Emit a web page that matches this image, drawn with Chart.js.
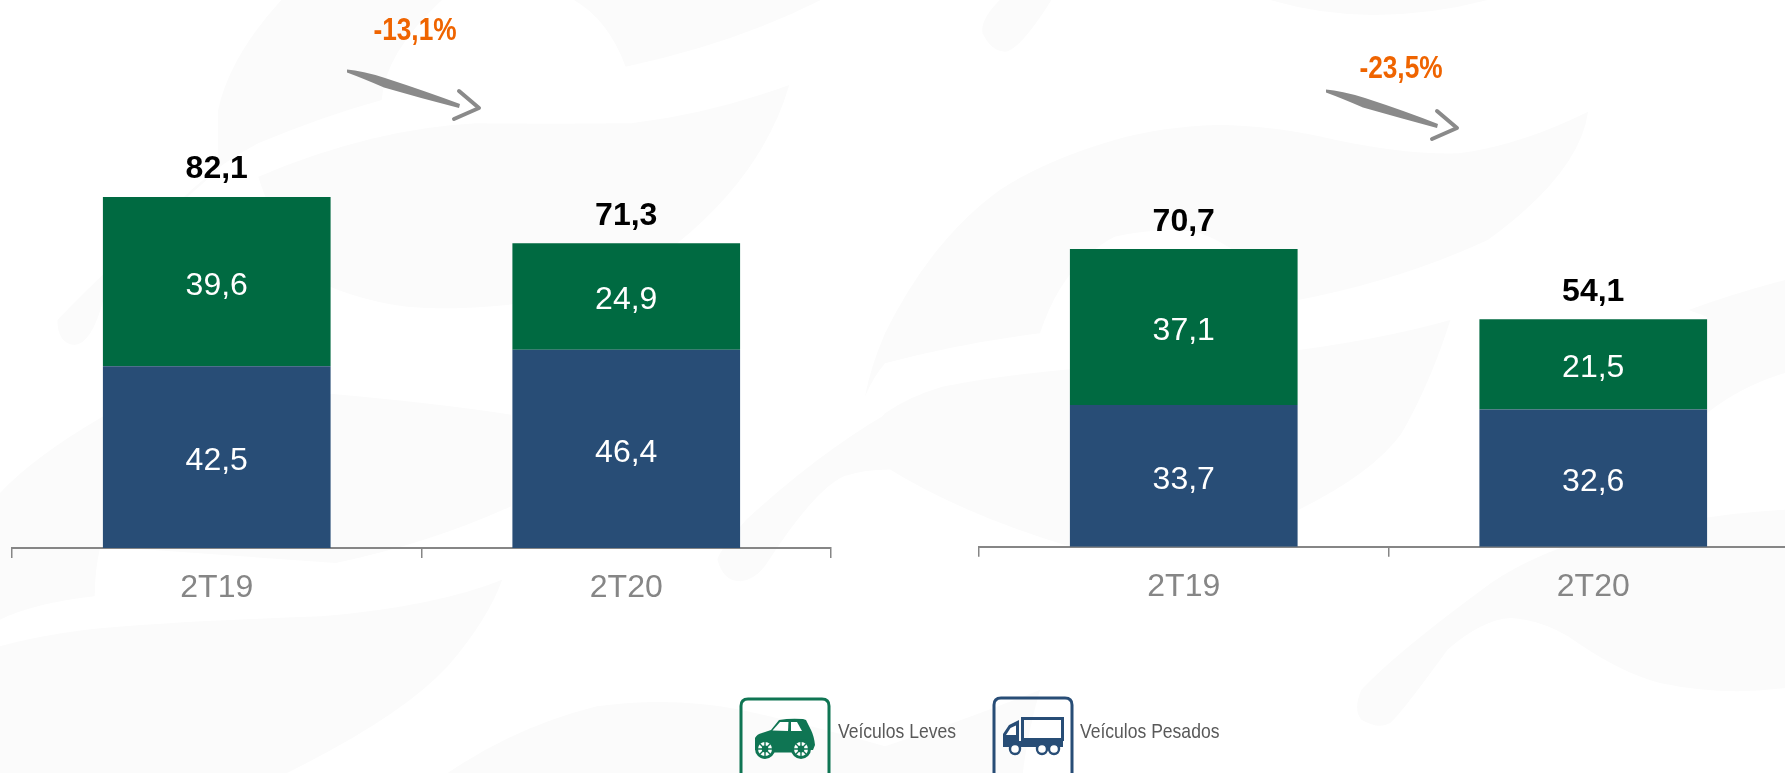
<!DOCTYPE html>
<html lang="pt">
<head>
<meta charset="utf-8">
<title>Veículos Leves e Pesados</title>
<script src="https://cdn.jsdelivr.net/npm/chart.js@4"></script>
<style>
html,body{margin:0;padding:0;width:1785px;height:773px;overflow:hidden;background:#fff;}
body{position:relative;font-family:"Liberation Sans",Arial,sans-serif;}
canvas{position:absolute;top:0;}
#bg,#deco{position:absolute;left:0;top:0;}
.pct{position:absolute;transform:translate(-50%,-50%) scaleX(.82);color:#ef6400;font:bold 32px "Liberation Sans",sans-serif;white-space:nowrap;}
.lg{position:absolute;transform-origin:0 50%;transform:translateY(-50%) scaleX(.835);color:#595959;font:21px "Liberation Sans",sans-serif;white-space:nowrap;}
</style>
</head>
<body>
<svg id="bg" width="1785" height="773" viewBox="0 0 1785 773">
  <g fill="#fbfbfb">
    <g transform="scale(0.574,0.3333)">
      <path d="M490 0 Q400 170 380 330 L380 510 Q200 780 100 960 Q100 1030 130 1035 Q160 1030 180 900 Q300 560 450 430 Q560 350 665 300 Q670 160 770 0Z"/>
      <path d="M1000 0 Q1060 60 1090 200 Q1280 130 1430 0Z"/>
      <path d="M1375 255 Q1240 340 1100 370 Q960 372 830 370 Q650 385 450 530 Q480 700 560 850 Q660 925 760 925 Q900 925 1000 880 Q1130 820 1180 730 Q1330 520 1375 255Z"/>
    </g>
    <g transform="translate(0,373) scale(0.574,0.3333)">
      <path d="M0 360 Q60 250 180 130 Q300 60 560 60 Q760 90 890 125 L890 400 Q750 510 585 570 L175 520 Q165 590 165 670 Q60 690 0 740Z"/>
      <path d="M875 620 Q760 700 560 730 Q300 745 150 770 Q60 790 0 820 L0 1200 L500 1200 Q700 1030 780 880 Q850 740 875 620Z"/>
      <path d="M1568 100 Q1440 220 1300 440 Q1250 540 1250 560 Q1260 625 1290 625 Q1320 620 1340 560 Q1420 350 1470 310 Q1510 285 1568 290Z"/>
      <path d="M780 1200 Q900 1060 1040 1000 Q1170 970 1290 1010 Q1420 1060 1542 1120 Q1700 1030 1812 950 Q1790 1080 1782 1200Z"/>
    </g>
    <g transform="translate(885,0) scale(0.574,0.3333)">
      <path d="M200 0 Q165 60 170 100 Q185 155 210 155 Q235 150 290 0Z"/>
      <path d="M670 0 Q760 45 850 45 Q950 45 1050 0Z"/>
      <path d="M1225 335 Q1100 440 1000 460 Q900 465 760 410 Q660 375 580 375 Q480 380 400 420 Q280 480 200 570 Q80 720 0 1000 Q-25 1100 -35 1190 Q-20 1130 0 1090 Q130 1030 270 1000 Q310 790 400 710 Q480 680 540 695 Q600 720 720 900 Q900 840 1050 720 Q1210 520 1225 335Z"/>
      <path d="M985 960 Q800 1050 500 1090 Q260 1105 100 1160 Q40 1190 0 1240 Q-30 1300 0 1400 Q130 1540 322 1640 L720 1530 Q850 1420 900 1300 Q950 1150 985 960Z"/>
      <path d="M1400 930 Q1480 880 1568 840 L1568 1119 Q1490 1160 1432 1240 L1432 950Z"/>
    </g>
    <g transform="translate(885,373) scale(0.574,0.3333)">
      <path d="M1568 410 Q1430 420 1200 510 Q1100 570 1040 650 Q890 840 830 950 Q815 1010 830 1040 Q860 1070 880 1050 Q900 1020 980 830 Q1040 740 1090 735 Q1140 740 1190 790 Q1280 900 1350 930 Q1460 970 1568 945Z"/>
    </g>
  </g>
</svg>

<canvas id="chartA" width="845" height="640" style="left:0"></canvas>
<canvas id="chartB" width="845" height="640" style="left:960px"></canvas>

<svg id="deco" width="1785" height="773" viewBox="0 0 1785 773">
  <defs><filter id="soft" x="-10%" y="-30%" width="120%" height="160%"><feGaussianBlur stdDeviation="0.6"/></filter></defs>
  <!-- tendency arrows -->
  <g filter="url(#soft)">
    <g fill="#8a8a8a" stroke="none">
      <path d="M347 69.5 Q362 70.5 385 78 Q425 91 460 104 L459 108 Q420 98 384 87.5 Q362 78 347 72.5Z"/>
      <path d="M1326 89.5 Q1341 90.5 1365 98 Q1405 111 1438 124 L1437 128 Q1400 118 1363 107.5 Q1341 98 1326 92.5Z"/>
    </g>
    <g fill="none" stroke="#8a8a8a" stroke-width="4" stroke-linecap="round" stroke-linejoin="round">
      <path d="M459 91 L479 108 L454 119"/>
      <path d="M1437 111 L1457 128 L1432 139"/>
    </g>
  </g>
  <!-- legend: car -->
  <path d="M741 773 L741 706 Q741 699 748 699 L822 699 Q829 699 829 706 L829 773" fill="none" stroke="#0f7553" stroke-width="3"/>
  <g fill="#0f7553">
    <path d="M755 748 L755 738 Q757 734 762 733 L771 730 L779 720 Q790 718 803 719 L806 720 L811 730 Q814 736 815 745 L813 750 L755 750Z"/>
    <rect x="774" y="749" width="18" height="3.5"/>
    <path d="M772.5 730.5 L780 722 L788.5 722 L788 731Z" fill="#fff"/>
    <path d="M791 722 L797 722 L802 731 L791 731Z" fill="#fff"/>
    <circle cx="765" cy="749" r="10"/><circle cx="801" cy="749" r="10"/>
    <circle cx="765" cy="749" r="7" fill="#fff"/><circle cx="801" cy="749" r="7" fill="#fff"/>
    <circle cx="765" cy="749" r="3.4"/><circle cx="801" cy="749" r="3.4"/>
    <g stroke="#0f7553" stroke-width="1.4"><path d="M765 742V756M758 749H772M760 744L770 754M770 744L760 754"/><path d="M801 742V756M794 749H808M796 744L806 754M806 744L796 754"/></g>
  </g>
  <!-- legend: truck -->
  <path d="M994 773 L994 705 Q994 698 1001 698 L1065 698 Q1072 698 1072 705 L1072 773" fill="none" stroke="#284d76" stroke-width="3"/>
  <g fill="#284d76">
    <rect x="1022.5" y="718.5" width="40" height="21" fill="none" stroke="#284d76" stroke-width="3"/>
    <path d="M1003 747 L1003 734 L1009 725 L1019 720 L1019 741 L1063 741 L1063 747Z"/>
    <path d="M1006 735 L1010.5 728 L1016 725.5 L1016 735Z" fill="#fff"/>
    <g fill="#fff" stroke="#284d76" stroke-width="2.4">
      <circle cx="1015" cy="749" r="5"/><circle cx="1042" cy="749" r="5"/><circle cx="1054" cy="749" r="5"/>
    </g>
  </g>
</svg>

<div class="pct" style="left:414.5px;top:28.5px">-13,1%</div>
<div class="pct" style="left:1400.5px;top:66.5px">-23,5%</div>
<div class="lg" style="left:837.5px;top:731px">Veículos Leves</div>
<div class="lg" style="left:1080px;top:731px">Veículos Pesados</div>

<script>
const categories = ['2T19', '2T20'];
const seriesNames = ['Veículos Pesados', 'Veículos Leves'];

const pesadosA = [42.5, 46.4];
const levesA   = [39.6, 24.9];
const totalsA  = [82.1, 71.3];

const pesadosB = [33.7, 32.6];
const levesB   = [37.1, 21.5];
const totalsB  = [70.7, 54.1];

const BLUE = '#284d76', GREEN = '#006a41', GREY = '#868686';
const fmt = v => v.toFixed(1).replace('.', ',');

const labelPlugin = {
  id: 'stackLabels',
  afterDatasetsDraw(chart, args, opts) {
    const ctx = chart.ctx;
    ctx.save();
    ctx.textAlign = 'center';
    ctx.textBaseline = 'middle';
    ctx.font = '32px "Liberation Sans", Arial, sans-serif';
    ctx.fillStyle = '#ffffff';
    chart.data.datasets.forEach((ds, d) => {
      chart.getDatasetMeta(d).data.forEach((bar, i) => {
        ctx.fillText(fmt(ds.data[i]), bar.x, (bar.y + bar.base) / 2 + 4);
      });
    });
    ctx.font = 'bold 32px "Liberation Sans", Arial, sans-serif';
    ctx.fillStyle = '#000000';
    const top = chart.getDatasetMeta(chart.data.datasets.length - 1).data;
    opts.totals.forEach((t, i) => {
      ctx.fillText(fmt(t), top[i].x, chart.scales.y.getPixelForValue(t) - 27.5);
    });
    ctx.restore();
  }
};

function stackedChart(id, pesados, leves, totals, yMax, axisHeight, padLeft, padRight) {
  return new Chart(document.getElementById(id), {
    type: 'bar',
    plugins: [labelPlugin],
    data: {
      labels: categories,
      datasets: [
        { label: seriesNames[0], data: pesados, backgroundColor: BLUE, borderWidth: 0 },
        { label: seriesNames[1], data: leves,   backgroundColor: GREEN, borderWidth: 0 }
      ]
    },
    options: {
      responsive: false,
      animation: false,
      devicePixelRatio: 1,
      layout: { padding: { left: padLeft, right: padRight, top: 0, bottom: 0 } },
      datasets: { bar: { barPercentage: 0.556, categoryPercentage: 1 } },
      plugins: {
        legend: { display: false },
        tooltip: { enabled: false },
        stackLabels: { totals }
      },
      scales: {
        x: {
          stacked: true,
          z: 1,
          afterFit(scale) { scale.height = axisHeight; },
          grid: { drawOnChartArea: false, drawTicks: true, tickLength: 10, color: GREY, lineWidth: 1.5, offset: true },
          border: { display: true, color: GREY, width: 2 },
          ticks: { color: GREY, padding: 11, maxRotation: 0, font: { family: '"Liberation Sans", Arial, sans-serif', size: 32 } }
        },
        y: { stacked: true, display: false, min: 0, max: yMax }
      }
    }
  });
}

stackedChart('chartA', pesadosA, levesA, totalsA, 128.2, 92, 12, 14);
stackedChart('chartB', pesadosB, levesB, totalsB, 130, 93.3, 19, 7);
</script>
</body>
</html>
